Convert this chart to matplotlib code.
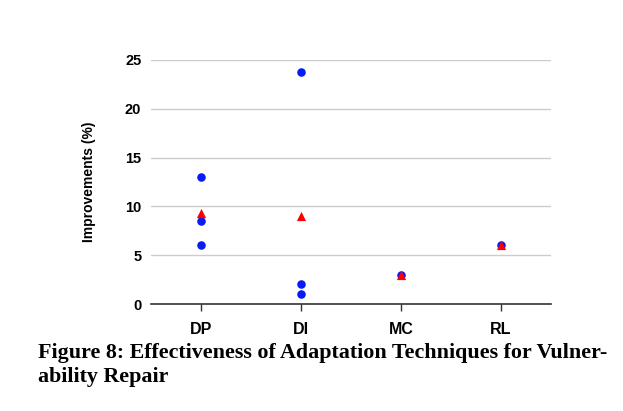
import matplotlib.pyplot as plt

CATEGORIES = ["DP", "DI", "MC", "RL"]

# individual results (blue dots), one list per technique
POINTS_DP = [13.0, 8.5, 6.0]
POINTS_DI = [23.8, 2.0, 1.0]
POINTS_MC = [3.0]
POINTS_RL = [6.0]

# averages (red triangles)
AVERAGES = [9.3, 9.0, 3.0, 6.0]

Y_TICKS = [0, 5, 10, 15, 20, 25]
CAPTION = "Figure 8: Effectiveness of Adaptation Techniques for Vulner-\nability Repair"

plt.rcParams["font.family"] = ["Liberation Sans", "DejaVu Sans"]

fig = plt.figure(figsize=(6.23, 4.11), dpi=100)
ax = fig.add_axes([151 / 623, 1 - 304 / 411, 400 / 623, 244 / 411])

groups = [POINTS_DP, POINTS_DI, POINTS_MC, POINTS_RL]
for i, vals in enumerate(groups):
    ax.scatter([i] * len(vals), vals, s=38, color="#0a1cf5", zorder=3, linewidths=0)
ax.scatter(range(len(CATEGORIES)), AVERAGES, s=44, marker="^", color="#ff0000",
           zorder=4, linewidths=0)

ax.set_xlim(-0.5, len(CATEGORIES) - 0.5)
ax.set_ylim(0, 25)
ax.set_yticks(Y_TICKS)
ax.set_yticklabels([str(t) for t in Y_TICKS], fontsize=10.5, fontweight="bold")
ax.set_xticks(range(len(CATEGORIES)))
ax.set_xticklabels(CATEGORIES, fontsize=11.5, fontweight="bold")
ax.tick_params(axis="y", length=0, pad=7)
ax.tick_params(axis="x", length=5, width=1, color="#333333", pad=8, direction="out")
ax.grid(True, axis="y", color="#cccccc", linewidth=1)
ax.set_axisbelow(True)
for s in ["top", "right", "left"]:
    ax.spines[s].set_visible(False)
ax.spines["bottom"].set_color("#333333")
ax.spines["bottom"].set_linewidth(1.2)
ax.set_ylabel("Improvements (%)", fontsize=10, fontweight="bold", labelpad=21)

fig.text(38 / 623, 1 - 343 / 411, CAPTION, family=["Liberation Serif", "DejaVu Serif"],
         fontsize=15.8, fontweight="bold", va="top", ha="left", linespacing=1.25)

fig.savefig("out.png", dpi=100)
